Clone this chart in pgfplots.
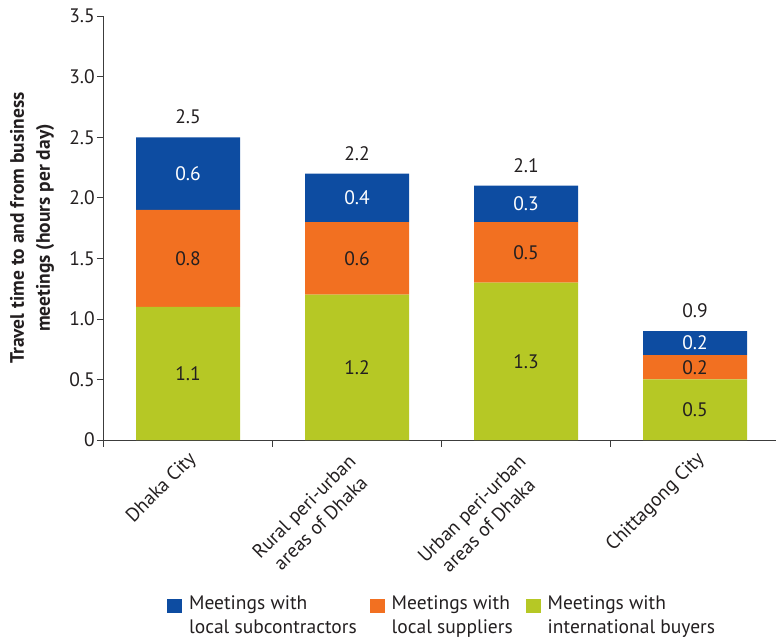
\documentclass[border=0pt]{standalone}
\usepackage{fontspec}
\setmainfont{PT Sans}
\usepackage{pgfplots}
\pgfplotsset{compat=1.18}
\definecolor{cblue}{RGB}{13,76,161}
\definecolor{corange}{RGB}{242,112,33}
\definecolor{cgreen}{RGB}{182,200,37}
\definecolor{ctext}{RGB}{35,31,32}
\definecolor{caxis}{RGB}{60,60,60}
\begin{document}
\begin{tikzpicture}[font=\fontsize{19.5}{23.5}\selectfont,
  lab/.style={inner sep=0pt, text=ctext, anchor=center},
  wlab/.style={inner sep=0pt, text=white, anchor=center},
  tot/.style={inner sep=0pt, text=ctext, anchor=south, yshift=13pt},
  xl/.style={inner sep=0pt, text=ctext, anchor=north east, rotate=45, align=center}]
\useasboundingbox (0,0) rectangle (776pt,643pt);
\begin{axis}[
  at={(103.5pt,203pt)}, anchor=south west,
  scale only axis, width=672.5pt, height=423.8pt,
  xmin=-0.5, xmax=3.479, ymin=0, ymax=3.5,
  ybar stacked, bar width=104pt, bar shift=0pt,
  axis x line=bottom, axis y line=left,
  axis line style={-, caxis, line width=0.8pt},
  xtick={-0.5,0.5,1.5,2.5}, xticklabels={},
  ytick={0,0.5,1,1.5,2,2.5,3,3.5},
  yticklabels={0,0.5,1.0,1.5,2.0,2.5,3.0,3.5},
  tick align=outside, major tick length=6.5pt,
  tick style={caxis, line width=0.8pt},
  yticklabel style={inner sep=0pt, text=ctext, xshift=-2pt},
  ylabel={Travel time to and from business\\meetings (hours per day)},
  ylabel style={align=center, font=\bfseries\fontsize{19.5}{26}\selectfont, text=ctext,
    at={(axis description cs:-0.1063,0.5)}, anchor=center},
  clip=false,
  legend columns=3,
  legend cell align=left,
  legend style={at={(axis description cs:0.502,-0.368)}, anchor=north,
    draw=none, fill=none, inner sep=0pt, outer sep=0pt,
    /tikz/every odd column/.append style={column sep=7pt},
    /tikz/every even column/.append style={column sep=13pt},
    nodes={inner sep=0pt, align=left, text=ctext}},
  legend image code/.code={\fill[#1] (0pt,2pt) rectangle (15pt,16pt);},
]
\addplot[fill=cgreen, draw=none, forget plot] coordinates {(0,1.1) (1,1.2) (2,1.3) (3,0.5)};
\addplot[fill=corange, draw=none, forget plot] coordinates {(0,0.8) (1,0.6) (2,0.5) (3,0.2)};
\addplot[fill=cblue, draw=none, forget plot] coordinates {(0,0.6) (1,0.4) (2,0.3) (3,0.2)};
\addlegendimage{fill=cblue, draw=none}
\addlegendentry{Meetings with\\local subcontractors}
\addlegendimage{fill=corange, draw=none}
\addlegendentry{Meetings with\\local suppliers}
\addlegendimage{fill=cgreen, draw=none}
\addlegendentry{Meetings with\\international buyers}
% anchor points for labels
\coordinate (a1) at (axis cs:0,0.55);
\coordinate (a2) at (axis cs:0,1.5);
\coordinate (a3) at (axis cs:0,2.2);
\coordinate (a4) at (axis cs:0,2.5);
\coordinate (b1) at (axis cs:1,0.6);
\coordinate (b2) at (axis cs:1,1.5);
\coordinate (b3) at (axis cs:1,2.0);
\coordinate (b4) at (axis cs:1,2.2);
\coordinate (c1) at (axis cs:2,0.65);
\coordinate (c2) at (axis cs:2,1.55);
\coordinate (c3) at (axis cs:2,1.95);
\coordinate (c4) at (axis cs:2,2.1);
\coordinate (d1) at (axis cs:3,0.25);
\coordinate (d2) at (axis cs:3,0.6);
\coordinate (d3) at (axis cs:3,0.8);
\coordinate (d4) at (axis cs:3,0.9);
\coordinate (x1) at (axis cs:-0.006,0);
\coordinate (x2) at (axis cs:0.941,0);
\coordinate (x3) at (axis cs:1.947,0);
\coordinate (x4) at (axis cs:3.0,0);
\end{axis}
\node[lab] at (a1) {1.1};
\node[lab] at (a2) {0.8};
\node[wlab] at (a3) {0.6};
\node[tot] at (a4) {2.5};
\node[lab] at (b1) {1.2};
\node[lab] at (b2) {0.6};
\node[wlab] at (b3) {0.4};
\node[tot] at (b4) {2.2};
\node[lab] at (c1) {1.3};
\node[lab] at (c2) {0.5};
\node[wlab] at (c3) {0.3};
\node[tot] at (c4) {2.1};
\node[lab] at (d1) {0.5};
\node[lab] at (d2) {0.2};
\node[wlab] at (d3) {0.2};
\node[tot] at (d4) {0.9};
\node[yshift=-10pt, xl] at (x1) {Dhaka City};
\node[yshift=-13pt, xl] at (x2) {Rural peri-urban\\areas of Dhaka};
\node[yshift=-13pt, xl] at (x3) {Urban peri-urban\\areas of Dhaka};
\node[yshift=-10pt, xl] at (x4) {Chittagong City};
\end{tikzpicture}
\end{document}
